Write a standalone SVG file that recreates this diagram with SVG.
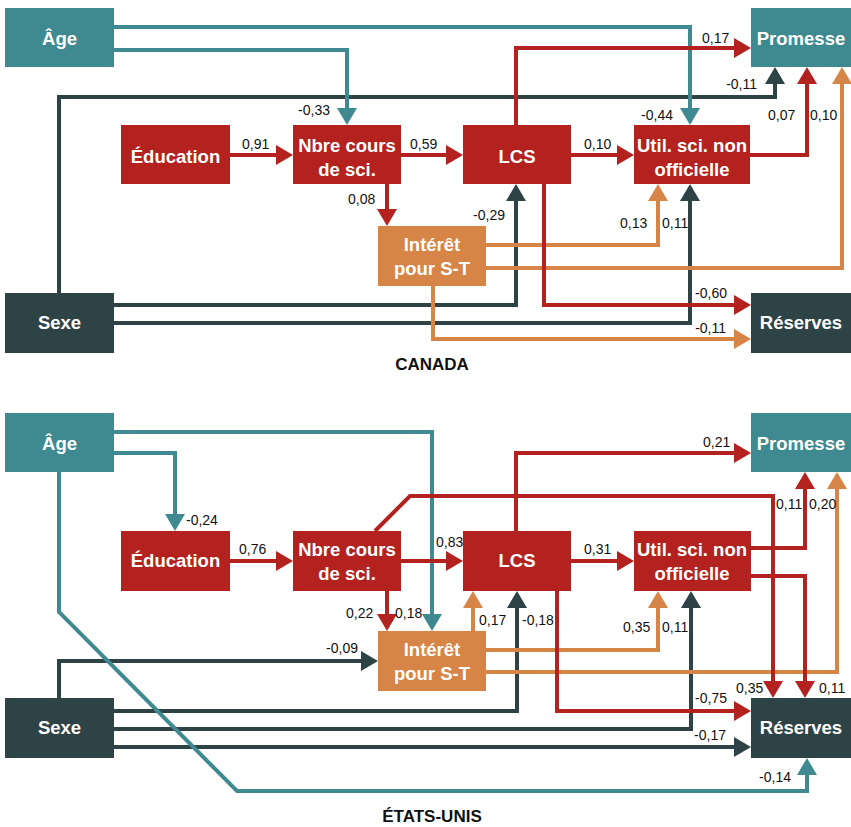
<svg xmlns="http://www.w3.org/2000/svg" width="851" height="827" viewBox="0 0 851 827">
<style>
.bg{fill:#ffffff}
.teal{fill:#3f8a90}
.red{fill:#b3221e}
.orange{fill:#d78447}
.dark{fill:#2e4346}
.bt{font-family:"Liberation Sans",Arial,sans-serif;font-weight:bold;font-size:18.5px;fill:#ffffff;text-anchor:middle}
.lb{font-family:"Liberation Sans",Arial,sans-serif;font-size:14px;fill:#111111}
.e{text-anchor:end}
.ttl{font-family:"Liberation Sans",Arial,sans-serif;font-weight:bold;font-size:17px;fill:#111111;text-anchor:middle}
.c{fill:none;stroke-width:4;stroke-linejoin:miter}
.ct{stroke:#3f8a90;marker-end:url(#at)}
.cr{stroke:#b3221e;marker-end:url(#ar)}
.co{stroke:#d78447;marker-end:url(#ao)}
.cd{stroke:#2e4346;marker-end:url(#ad)}
</style>
<defs>
<marker id="at" markerUnits="userSpaceOnUse" viewBox="0 0 17 20" markerWidth="17" markerHeight="20" refX="9" refY="10" orient="auto"><path d="M0,0 L17,10 L0,20 z" fill="#3f8a90"/></marker>
<marker id="ar" markerUnits="userSpaceOnUse" viewBox="0 0 17 20" markerWidth="17" markerHeight="20" refX="9" refY="10" orient="auto"><path d="M0,0 L17,10 L0,20 z" fill="#b3221e"/></marker>
<marker id="ao" markerUnits="userSpaceOnUse" viewBox="0 0 17 20" markerWidth="17" markerHeight="20" refX="9" refY="10" orient="auto"><path d="M0,0 L17,10 L0,20 z" fill="#d78447"/></marker>
<marker id="ad" markerUnits="userSpaceOnUse" viewBox="0 0 17 20" markerWidth="17" markerHeight="20" refX="9" refY="10" orient="auto"><path d="M0,0 L17,10 L0,20 z" fill="#2e4346"/></marker>
</defs>
<rect class="bg" x="0" y="0" width="851" height="827"/>

<!-- ================= CANADA ================= -->
<g id="canada-connectors">
<path class="c cd" d="M59,293 V97 H775 V75"/>
<path class="c cd" d="M114,305 H516 V192"/>
<path class="c cd" d="M114,323 H690 V192"/>
<path class="c co" d="M486,245 H658 V192"/>
<path class="c co" d="M486,268 H842 V75"/>
<path class="c co" d="M433,286 V339 H743"/>
<path class="c ct" d="M114,27 H690 V117"/>
<path class="c ct" d="M114,50 H347 V117"/>
<path class="c cr" d="M230,155 H285"/>
<path class="c cr" d="M401,155 H455"/>
<path class="c cr" d="M571,155 H626"/>
<path class="c cr" d="M387,184 V218"/>
<path class="c cr" d="M516,125 V48 H743"/>
<path class="c cr" d="M750,155 H807 V75"/>
<path class="c cr" d="M544,184 V305 H743"/>
</g>
<g id="canada-labels">
<text class="lb e" x="330" y="115">-0,33</text>
<text class="lb" x="242" y="149">0,91</text>
<text class="lb" x="410" y="149">0,59</text>
<text class="lb" x="584" y="149">0,10</text>
<text class="lb" x="702" y="43">0,17</text>
<text class="lb e" x="757" y="89">-0,11</text>
<text class="lb e" x="673" y="120">-0,44</text>
<text class="lb" x="768" y="120">0,07</text>
<text class="lb" x="810" y="120">0,10</text>
<text class="lb" x="348" y="204">0,08</text>
<text class="lb e" x="505" y="220">-0,29</text>
<text class="lb" x="620" y="228">0,13</text>
<text class="lb" x="662" y="228">0,11</text>
<text class="lb e" x="727" y="298">-0,60</text>
<text class="lb e" x="726" y="333">-0,11</text>
</g>
<g id="ca-age"><rect class="teal" x="5" y="8" width="109" height="59"/><text class="bt" x="59.5" y="45">Âge</text></g>
<g id="ca-promesse"><rect class="teal" x="751" y="8" width="100" height="59"/><text class="bt" x="801" y="45">Promesse</text></g>
<g id="ca-education"><rect class="red" x="121" y="125" width="109" height="59"/><text class="bt" x="175.5" y="163">Éducation</text></g>
<g id="ca-nbre"><rect class="red" x="293" y="125" width="108" height="59"/><text class="bt" x="347" y="152">Nbre cours</text><text class="bt" x="347" y="176">de sci.</text></g>
<g id="ca-lcs"><rect class="red" x="463" y="125" width="108" height="59"/><text class="bt" x="517" y="163">LCS</text></g>
<g id="ca-util"><rect class="red" x="634" y="125" width="116" height="59"/><text class="bt" x="692" y="152">Util. sci. non</text><text class="bt" x="692" y="176">officielle</text></g>
<g id="ca-interet"><rect class="orange" x="378" y="226" width="108" height="60"/><text class="bt" x="432" y="251">Intérêt</text><text class="bt" x="432" y="275">pour S-T</text></g>
<g id="ca-sexe"><rect class="dark" x="5" y="293" width="109" height="60"/><text class="bt" x="59.5" y="329">Sexe</text></g>
<g id="ca-reserves"><rect class="dark" x="751" y="293" width="100" height="60"/><text class="bt" x="801" y="329">Réserves</text></g>
<text class="ttl" x="432" y="370">CANADA</text>

<!-- ================= ÉTATS-UNIS ================= -->
<g id="us-connectors">
<path class="c cd" d="M59,698 V661 H370"/>
<path class="c cd" d="M114,711 H517 V599"/>
<path class="c cd" d="M114,729 H691 V599"/>
<path class="c cd" d="M114,747 H743"/>
<path class="c co" d="M473,631 V599"/>
<path class="c co" d="M486,650 H658 V599"/>
<path class="c co" d="M486,672 H837 V480"/>
<path class="c ct" d="M114,432 H432 V623"/>
<path class="c ct" d="M114,453 H175 V523"/>
<path class="c ct" d="M59,472 V612 L237,791 H807 V766"/>
<path class="c cr" d="M230,561 H285"/>
<path class="c cr" d="M401,561 H455"/>
<path class="c cr" d="M571,561 H626"/>
<path class="c cr" d="M387,591 V623"/>
<path class="c cr" d="M375,531 L410,496 H773 V690"/>
<path class="c cr" d="M516,531 V453 H743"/>
<path class="c cr" d="M751,548 H805 V480"/>
<path class="c cr" d="M751,576 H805 V690"/>
<path class="c cr" d="M557,591 V711 H743"/>
</g>
<g id="us-labels">
<text class="lb" x="186" y="525">-0,24</text>
<text class="lb" x="239" y="554">0,76</text>
<text class="lb" x="436" y="547">0,83</text>
<text class="lb" x="584" y="554">0,31</text>
<text class="lb" x="703" y="447">0,21</text>
<text class="lb" x="776" y="509">0,11</text>
<text class="lb" x="809" y="509">0,20</text>
<text class="lb" x="346" y="618">0,22</text>
<text class="lb" x="395" y="618">0,18</text>
<text class="lb e" x="358" y="653">-0,09</text>
<text class="lb" x="479" y="625">0,17</text>
<text class="lb" x="522" y="625">-0,18</text>
<text class="lb" x="623" y="632">0,35</text>
<text class="lb" x="662" y="632">0,11</text>
<text class="lb" x="736" y="693">0,35</text>
<text class="lb" x="819" y="693">0,11</text>
<text class="lb e" x="727" y="703">-0,75</text>
<text class="lb e" x="726" y="740">-0,17</text>
<text class="lb e" x="791" y="782">-0,14</text>
</g>
<g id="us-age"><rect class="teal" x="5" y="413" width="109" height="59"/><text class="bt" x="59.5" y="450">Âge</text></g>
<g id="us-promesse"><rect class="teal" x="751" y="413" width="100" height="59"/><text class="bt" x="801" y="450">Promesse</text></g>
<g id="us-education"><rect class="red" x="121" y="531" width="109" height="60"/><text class="bt" x="175.5" y="567">Éducation</text></g>
<g id="us-nbre"><rect class="red" x="293" y="531" width="108" height="60"/><text class="bt" x="347" y="556">Nbre cours</text><text class="bt" x="347" y="580">de sci.</text></g>
<g id="us-lcs"><rect class="red" x="463" y="531" width="108" height="60"/><text class="bt" x="517" y="567">LCS</text></g>
<g id="us-util"><rect class="red" x="634" y="531" width="117" height="60"/><text class="bt" x="692" y="556">Util. sci. non</text><text class="bt" x="692" y="580">officielle</text></g>
<g id="us-interet"><rect class="orange" x="378" y="631" width="108" height="60"/><text class="bt" x="432" y="656">Intérêt</text><text class="bt" x="432" y="680">pour S-T</text></g>
<g id="us-sexe"><rect class="dark" x="5" y="698" width="109" height="60"/><text class="bt" x="59.5" y="734">Sexe</text></g>
<g id="us-reserves"><rect class="dark" x="751" y="698" width="100" height="60"/><text class="bt" x="801" y="734">Réserves</text></g>
<text class="ttl" x="432" y="822">ÉTATS-UNIS</text>
</svg>
